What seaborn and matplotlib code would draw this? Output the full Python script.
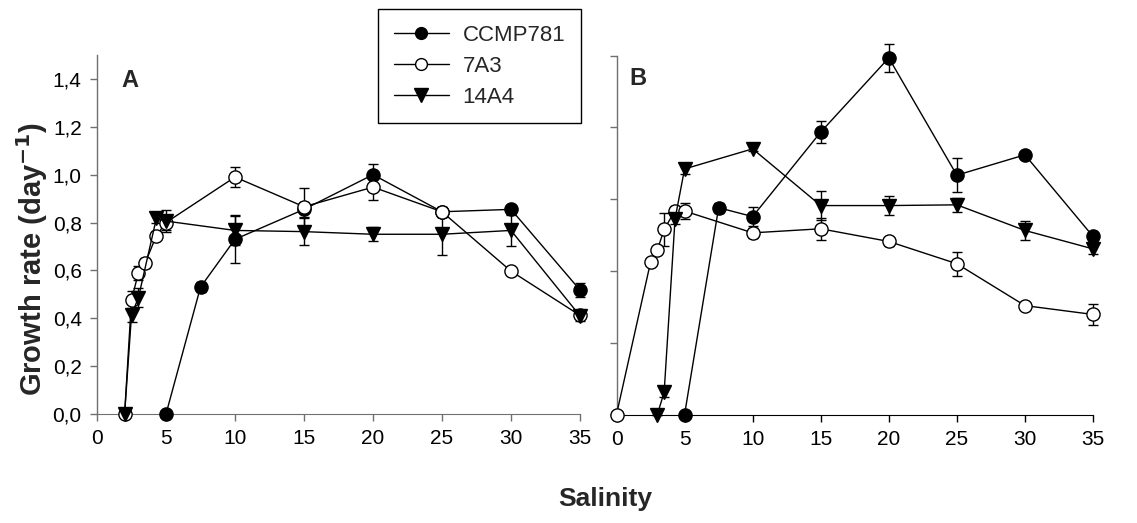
import matplotlib
matplotlib.use("Agg")
import matplotlib.pyplot as plt
import seaborn as sns
import pandas as pd
from matplotlib.lines import Line2D

# ---------------- data ----------------
# Panel A
a_ccmp_x = [5, 7.5, 10, 15, 20, 25, 30, 35]
a_ccmp_y = [0.0, 0.53, 0.73, 0.855, 1.0, 0.845, 0.855, 0.518]
a_ccmp_e = [0.0, 0.02, 0.10, 0.03, 0.045, 0.02, 0.02, 0.03]

a_7a3_x = [2, 2.5, 3, 3.5, 4.3, 5, 10, 15, 20, 25, 30, 35]
a_7a3_y = [0.0, 0.476, 0.59, 0.632, 0.745, 0.80, 0.99, 0.866, 0.948, 0.845, 0.597, 0.412]
a_7a3_e = [0.0, 0.04, 0.03, 0.02, 0.02, 0.03, 0.04, 0.08, 0.055, 0.02, 0.01, 0.01]

a_14a4_x = [2, 2.5, 3, 4.3, 5, 10, 15, 20, 25, 30, 35]
a_14a4_y = [0.0, 0.414, 0.486, 0.817, 0.806, 0.767, 0.762, 0.751, 0.751, 0.767, 0.41]
a_14a4_e = [0.0, 0.03, 0.04, 0.02, 0.045, 0.06, 0.055, 0.03, 0.085, 0.065, 0.02]

# Panel B
b_ccmp_x = [5, 7.5, 10, 15, 20, 25, 30, 35]
b_ccmp_y = [0.0, 0.864, 0.827, 1.18, 1.49, 1.0, 1.085, 0.744]
b_ccmp_e = [0.0, 0.02, 0.04, 0.045, 0.06, 0.07, 0.01, 0.02]

b_7a3_x = [0, 2.5, 3, 3.5, 4.3, 5, 10, 15, 20, 25, 30, 35]
b_7a3_y = [0.0, 0.636, 0.688, 0.773, 0.852, 0.85, 0.759, 0.776, 0.723, 0.63, 0.455, 0.418]
b_7a3_e = [0.0, 0.01, 0.01, 0.07, 0.02, 0.035, 0.02, 0.045, 0.02, 0.05, 0.01, 0.045]

b_14a4_x = [3, 3.5, 4.3, 5, 10, 15, 20, 25, 30, 35]
b_14a4_y = [0.0, 0.093, 0.817, 1.026, 1.11, 0.873, 0.873, 0.876, 0.769, 0.692]
b_14a4_e = [0.0, 0.02, 0.02, 0.02, 0.01, 0.06, 0.04, 0.03, 0.04, 0.02]

strains = ["CCMP781", "7A3", "14A4"]
x_ticks = [0, 5, 10, 15, 20, 25, 30, 35]
a_y_ticks = [0.0, 0.2, 0.4, 0.6, 0.8, 1.0, 1.2, 1.4]
a_y_labels = ["0,0", "0,2", "0,4", "0,6", "0,8", "1,0", "1,2", "1,4"]
b_y_ticks = [0.0, 0.3, 0.6, 0.9, 1.2, 1.5]

# ---------------- style ----------------
sns.set_style("ticks")
plt.rcParams["font.family"] = ["Liberation Sans", "DejaVu Sans"]
plt.rcParams["axes.unicode_minus"] = False

styles = {
    "CCMP781": dict(marker="o", mfc="black", mec="black", ms=9.5),
    "7A3": dict(marker="o", mfc="white", mec="black", ms=9.5),
    "14A4": dict(marker="v", mfc="black", mec="black", ms=10.5),
}

W, H = 1137, 523
fig = plt.figure(figsize=(W / 100, H / 100), dpi=100)
axA = fig.add_axes([97 / W, (H - 414) / H, 483 / W, 359 / H])
axB = fig.add_axes([616.5 / W, (H - 414.5) / H, 476.5 / W, 359 / H])

panelA = {"CCMP781": (a_ccmp_x, a_ccmp_y, a_ccmp_e),
          "7A3": (a_7a3_x, a_7a3_y, a_7a3_e),
          "14A4": (a_14a4_x, a_14a4_y, a_14a4_e)}
panelB = {"CCMP781": (b_ccmp_x, b_ccmp_y, b_ccmp_e),
          "7A3": (b_7a3_x, b_7a3_y, b_7a3_e),
          "14A4": (b_14a4_x, b_14a4_y, b_14a4_e)}

def draw(ax, panel):
    for name in strains:
        xs, ys, es = panel[name]
        df = pd.DataFrame({"x": xs, "y": ys})
        st = styles[name]
        ax.errorbar(xs, ys, yerr=es, fmt="none", ecolor="black", elinewidth=1,
                    capsize=3.5, capthick=1, zorder=2, clip_on=False)
        sns.lineplot(data=df, x="x", y="y", ax=ax, sort=False, color="black",
                     linewidth=1, marker=st["marker"], markersize=st["ms"],
                     markerfacecolor=st["mfc"], markeredgecolor=st["mec"],
                     markeredgewidth=1, zorder=3, clip_on=False, legend=False,
                     errorbar=None)
    ax.set_xlim(0, 35)
    ax.set_ylim(0, 1.5)
    ax.set_xticks(x_ticks)
    ax.set_xticklabels([str(t) for t in x_ticks])
    ax.set_xlabel("")
    ax.set_ylabel("")
    for s in ["top", "right"]:
        ax.spines[s].set_visible(False)
    ax.tick_params(direction="out", length=5, width=1, labelsize=15,
                   colors="#707070", labelcolor="black", pad=6)

draw(axA, panelA)
draw(axB, panelB)

axA.set_yticks(a_y_ticks)
axA.set_yticklabels(a_y_labels)
axB.set_yticks(b_y_ticks)
axB.set_yticklabels([])

for ax in (axA, axB):
    ax.spines["left"].set_color("#707070")
    ax.spines["left"].set_linewidth(1)
axA.spines["bottom"].set_color("#707070")
axB.spines["bottom"].set_color("black")
axB.tick_params(axis="x", colors="black")

axA.text(0.068, 0.928, "A", transform=axA.transAxes, fontsize=17,
         fontweight="bold", ha="center", va="center")
axB.text(0.045, 0.936, "B", transform=axB.transAxes, fontsize=17,
         fontweight="bold", ha="center", va="center")

fig.text(32 / W, 1 - 259 / H, r"Growth rate (day$^{\mathbf{-1}}$)", rotation=90,
         fontsize=21, fontweight="bold", ha="center", va="center")
fig.text(605 / W, 1 - 499 / H, "Salinity", fontsize=19, fontweight="bold",
         ha="center", va="center")

handles = [Line2D([], [], color="black", lw=1, marker=styles[n]["marker"],
                  markersize=styles[n]["ms"] - 1, markerfacecolor=styles[n]["mfc"],
                  markeredgecolor="black") for n in strains]
leg = fig.legend(handles, strains, loc="upper left",
                 bbox_to_anchor=(378 / W, 1 - 9 / H), frameon=True, fancybox=False,
                 fontsize=16, handlelength=2.5, handletextpad=0.6,
                 borderpad=0.7, labelspacing=0.45, borderaxespad=0)
leg.get_frame().set_edgecolor("black")
leg.get_frame().set_linewidth(1)
leg.get_frame().set_alpha(1)

fig.savefig("out.png", dpi=100)
